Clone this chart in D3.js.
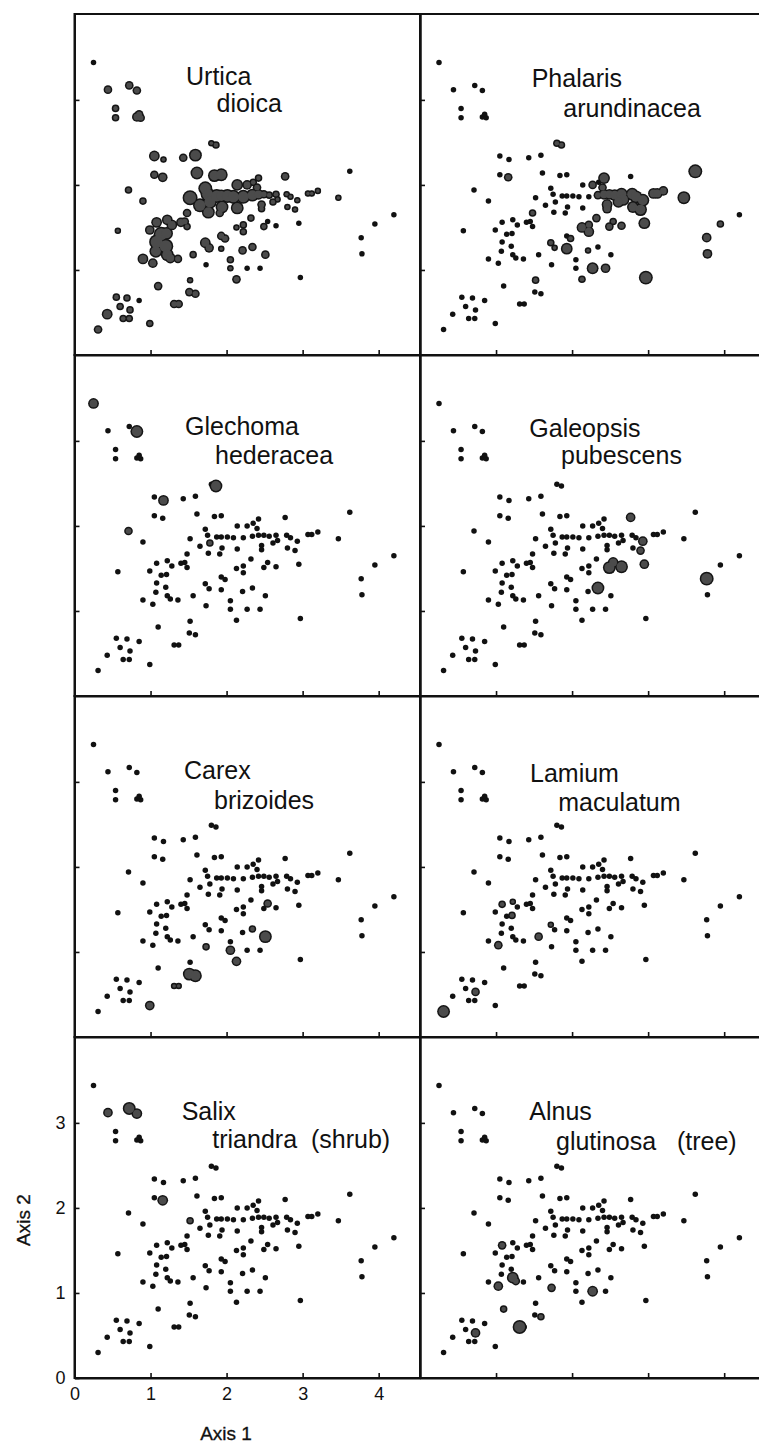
<!DOCTYPE html>
<html>
<head>
<meta charset="utf-8">
<script src="https://cdn.jsdelivr.net/npm/d3@7"></script>
<style>
  html, body { margin: 0; padding: 0; background: #fff; }
  svg { display: block; }
  text { font-family: "Liberation Sans", Arial, sans-serif; fill: #111; }
</style>
</head>
<body>
<svg id="chart" width="759" height="1443"></svg>
<script>
// ---- site scores on the first two ordination axes ----
const siteAxis1 = [
  0.25, 0.44, 0.72, 0.82, 0.54, 0.54, 0.82, 0.87, 0.85, 1.80,
  1.86, 1.05, 1.17, 1.43, 1.59, 1.05, 1.16, 1.61, 1.84, 1.93,
  2.77, 3.62, 0.71, 0.90, 0.57, 1.52, 1.72, 1.65, 1.75, 1.78,
  1.87, 1.93, 2.01, 2.09, 2.14, 2.14, 1.94, 2.27, 2.35, 2.42,
  2.40, 2.22, 2.34, 2.42, 2.49, 2.56, 2.65, 2.67, 2.79, 2.84,
  2.93, 3.07, 3.12, 3.20, 2.46, 2.61, 2.80, 2.90, 2.46, 3.47,
  1.48, 1.76, 1.91, 1.08, 1.22, 1.28, 1.40, 1.45, 1.48, 0.99,
  1.14, 1.21, 1.08, 1.20, 1.07, 1.22, 1.26, 1.36, 1.56, 0.90,
  1.03, 1.72, 1.77, 1.73, 1.93, 1.98, 1.93, 2.05, 2.05, 2.13,
  2.13, 2.22, 2.22, 2.21, 2.27, 2.32, 2.34, 2.44, 2.49, 2.54,
  2.51, 2.65, 2.95, 2.97, 3.77, 3.78, 3.95, 4.20, 1.52, 1.51,
  1.59, 1.10, 1.31, 1.37, 0.99, 0.31, 0.43, 0.55, 0.69, 0.60,
  0.73, 0.64, 0.72, 0.85
];
const siteAxis2 = [
  3.44, 3.12, 3.17, 3.11, 2.90, 2.79, 2.80, 2.79, 2.83, 2.49,
  2.47, 2.34, 2.30, 2.32, 2.35, 2.12, 2.09, 2.14, 2.11, 2.12,
  2.10, 2.16, 1.94, 1.81, 1.46, 1.85, 1.96, 1.76, 1.89, 1.80,
  1.87, 1.87, 1.87, 1.86, 2.00, 1.73, 1.74, 2.00, 2.03, 2.08,
  1.97, 1.86, 1.88, 1.89, 1.89, 1.88, 1.89, 1.83, 1.89, 1.86,
  1.82, 1.90, 1.90, 1.93, 1.77, 1.80, 1.74, 1.71, 1.72, 1.85,
  1.67, 1.68, 1.67, 1.56, 1.59, 1.53, 1.56, 1.57, 1.51, 1.47,
  1.42, 1.43, 1.33, 1.28, 1.22, 1.18, 1.14, 1.13, 1.18, 1.13,
  1.08, 1.32, 1.26, 1.06, 1.40, 1.37, 1.25, 1.12, 1.02, 0.89,
  1.50, 1.53, 1.45, 1.23, 1.02, 1.61, 1.27, 1.02, 1.51, 1.57,
  1.18, 1.52, 1.55, 0.91, 1.38, 1.19, 1.54, 1.65, 0.88, 0.74,
  0.72, 0.81, 0.60, 0.60, 0.37, 0.30, 0.48, 0.68, 0.67, 0.57,
  0.53, 0.43, 0.43, 0.64
];

// ---- species abundance: [site index, abundance class 1..9]; unlisted sites = absent ----
const urticaDioica = [
  [1,3],[2,3],[3,3],[4,2],[5,2],[6,4],[7,3],[8,3],[9,1],[10,2],[11,5],[12,1],[13,3],[14,7],
  [15,3],[16,4],[17,7],[18,7],[19,7],[20,3],[22,2],[23,2],[24,1],
  [25,9],[26,8],[27,8],[28,8],[29,8],[30,8],[31,7],[32,8],[33,8],[34,6],[35,7],[36,7],[37,4],
  [38,2],[39,2],[40,3],[41,8],[42,7],[43,5],[44,3],[45,2],[46,2],[47,1],[48,1],[49,1],[50,1],
  [51,1],[52,1],[53,1],[54,3],[55,2],[56,1],[57,1],[58,2],[59,1],[60,3],[61,7],[62,3],
  [63,5],[64,5],[65,5],[66,4],[67,3],[68,2],[69,4],[70,9],[71,7],[72,9],[73,9],[74,7],[75,7],
  [76,5],[77,3],[78,2],[79,5],[80,4],[81,5],[82,4],[84,3],[85,3],[86,1],[87,2],[88,1],[89,3],
  [90,1],[91,2],[92,2],[93,3],[95,2],[96,3],[98,2],[100,3],
  [108,1],[109,3],[110,3],[111,3],[112,3],[113,3],[114,2],[115,3],[116,5],[117,2],[118,2],
  [119,2],[120,2],[121,2],[122,2]
];
const phalarisArundinacea = [
  [9,2],[10,2],[16,3],[21,8],[37,3],[39,6],[40,3],[42,3],[43,5],[44,5],[45,6],[46,7],[47,7],
  [48,7],[49,7],[50,7],[51,5],[52,5],[53,4],[54,5],[55,6],[56,6],[57,7],[58,4],[59,7],[60,2],
  [81,2],[82,1],[85,2],[86,6],[89,2],[90,5],[91,3],[92,5],[93,1],[94,6],[95,3],[97,4],[98,3],
  [99,2],[101,3],[102,6],[103,8],[104,4],[105,4],[106,2],[108,2]
];
const glechomaHederacea = [[0,5],[3,7],[10,7],[12,5],[22,3],[29,2]];
const galeopsisPubescens = [[20,4],[50,4],[57,3],[96,7],[98,7],[99,5],[101,7],[102,4],[104,8]];
const carexBrizoides = [[83,2],[88,4],[89,4],[96,2],[99,3],[100,7],[109,7],[110,7],[112,1],[113,1],[114,4]];
const lamiumMaculatum = [[63,2],[64,1],[71,2],[78,3],[80,3],[81,1],[115,7],[120,3]];
const salixTriandra = [[1,4],[2,7],[3,5],[16,5],[25,2]];
const alnusGlutinosa = [[63,3],[75,6],[76,3],[80,4],[83,3],[94,5],[110,2],[111,2],[112,8],[120,4]];

const speciesNames = [
  ["Urtica", "dioica"],
  ["Phalaris", "arundinacea"],
  ["Glechoma", "hederacea"],
  ["Galeopsis", "pubescens"],
  ["Carex", "brizoides"],
  ["Lamium", "maculatum"],
  ["Salix", "triandra  (shrub)"],
  ["Alnus", "glutinosa   (tree)"]
];
const speciesData = [
  urticaDioica, phalarisArundinacea, glechomaHederacea, galeopsisPubescens,
  carexBrizoides, lamiumMaculatum, salixTriandra, alnusGlutinosa
];
const axis1Ticks = [0, 1, 2, 3, 4];
const axis2Ticks = [0, 1, 2, 3];
const axis1Title = "Axis 1";
const axis2Title = "Axis 2";

// ---- layout ----
const W = 346, H = 341;
const colX = [74.5, 420];
const rowY = [14, 355, 696, 1037];
// name placement inside each panel: [x1, y1, x2, y2]
const namePos = [
  [111.5, 71, 142, 98], [111.7, 73, 143.3, 102.5],
  [110.5, 80, 140.5, 109], [109.3, 81.5, 141, 108.5],
  [109.5, 82.5, 139.5, 113], [110, 85.5, 138.3, 114.5],
  [107.2, 83, 137.8, 110.5], [109.3, 83, 136, 113]
];

const x = d3.scaleLinear().domain([0, 4.55]).range([0, W]);
const y = d3.scaleLinear().domain([0, 4.01]).range([H, 0]);
const radius = d3.scaleLinear().domain([0, 9]).range([2.75, 7.5]);
const ring = 1.5;

const svg = d3.select("#chart");
svg.append("rect").attr("width", 759).attr("height", 1443).attr("fill", "#fff");

const sitesBase = siteAxis1.map((a1, i) => ({ i, a1, a2: siteAxis2[i] }));

speciesData.forEach((cover, p) => {
  const col = p % 2, row = Math.floor(p / 2);
  const isCorner = col === 0 && row === 3;
  const g = svg.append("g").attr("transform", `translate(${colX[col]},${rowY[row]})`);

  const byClass = new Map(cover);
  const sites = sitesBase.map(s => ({ ...s, k: byClass.get(s.i) || 0 }));
  const present = sites.filter(d => d.k > 0);

  // all sites as small dots
  g.append("g").selectAll("circle")
    .data(sites).join("circle")
    .attr("cx", d => x(d.a1)).attr("cy", d => y(d.a2))
    .attr("r", radius(0)).attr("fill", "#111");

  // abundance circles: dark rings first, grey centres on top so touching circles merge
  g.append("g").selectAll("circle")
    .data(present).join("circle")
    .attr("cx", d => x(d.a1)).attr("cy", d => y(d.a2))
    .attr("r", d => radius(d.k)).attr("fill", "#151515");
  g.append("g").selectAll("circle")
    .data(present).join("circle")
    .attr("cx", d => x(d.a1)).attr("cy", d => y(d.a2))
    .attr("r", d => Math.max(radius(d.k) - ring, 0.5)).attr("fill", "#4b4b4b");

  // frame
  g.append("rect").attr("width", W).attr("height", H)
    .attr("fill", "none").attr("stroke", "#111").attr("stroke-width", 2);

  // inward ticks
  const xa = d3.axisBottom(x)
    .tickValues(isCorner ? axis1Ticks : axis1Ticks.slice(1))
    .tickSize(-5).tickSizeOuter(0).tickPadding(9)
    .tickFormat(isCorner ? d3.format("d") : () => "");
  const ya = d3.axisLeft(y)
    .tickValues(isCorner ? axis2Ticks : axis2Ticks.slice(1))
    .tickSize(-5).tickSizeOuter(0).tickPadding(9)
    .tickFormat(isCorner ? d3.format("d") : () => "");
  const gx = g.append("g").attr("transform", `translate(0,${H})`).call(xa);
  const gy = g.append("g").call(ya);
  [gx, gy].forEach(a => {
    a.select(".domain").attr("stroke", "#111").attr("stroke-width", 2);
    a.selectAll(".tick line").attr("stroke", "#111").attr("stroke-width", 1.6);
    a.selectAll(".tick text").attr("font-family", "Liberation Sans, Arial, sans-serif")
      .attr("font-size", 18).attr("fill", "#111");
  });

  // species name
  const [x1, y1, x2, y2] = namePos[p];
  g.append("text").attr("x", x1).attr("y", y1)
    .attr("font-size", 25).text(speciesNames[p][0]);
  g.append("text").attr("x", x2).attr("y", y2)
    .attr("font-size", 25).style("white-space", "pre").text(speciesNames[p][1]);
});

// axis titles
svg.append("text")
  .attr("transform", "translate(30,1220) rotate(-90)")
  .attr("text-anchor", "middle").attr("font-size", 19)
  .attr("stroke", "#111").attr("stroke-width", 0.3)
  .text(axis2Title);
svg.append("text")
  .attr("x", 226).attr("y", 1440)
  .attr("text-anchor", "middle").attr("font-size", 19)
  .attr("stroke", "#111").attr("stroke-width", 0.3)
  .text(axis1Title);
</script>
</body>
</html>
